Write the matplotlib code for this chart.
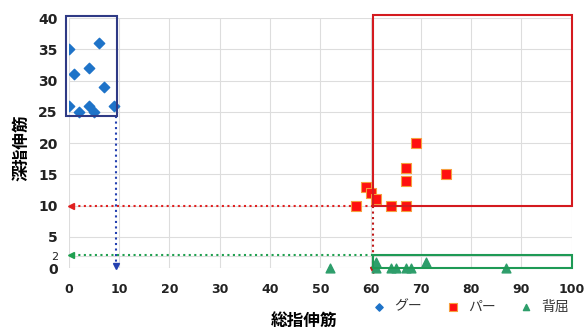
import matplotlib.pyplot as plt
from matplotlib.patches import Rectangle

plt.rcParams['font.family'] = ['Noto Sans CJK JP', 'DejaVu Sans']

goo_x = [0, 1, 4, 6, 7, 0, 2, 4, 5, 9]
goo_y = [35, 31, 32, 36, 29, 26, 25, 26, 25, 26]
paa_x = [57, 59, 60, 61, 64, 67, 67, 67, 69, 75]
paa_y = [10, 13, 12, 11, 10, 10, 14, 16, 20, 15]
hai_x = [52, 61, 61, 64, 65, 67, 68, 71, 87]
hai_y = [0, 1, 0, 0, 0, 0, 0, 1, 0]

xticks = [0, 10, 20, 30, 40, 50, 60, 70, 80, 90, 100]
yticks = [0, 2, 5, 10, 15, 20, 25, 30, 35, 40]

blue = '#1E73C8'
red = '#FF1010'
green = '#2E9E6B'

fig = plt.figure(figsize=(5.84, 3.29), dpi=100)
ax = fig.add_axes([0.118, 0.185, 0.861, 0.76])

ax.scatter(goo_x, goo_y, marker='D', s=28, color=blue, label='グー', zorder=3)
ax.scatter(paa_x, paa_y, marker='s', s=60, color=red, edgecolors='#F5A040',
           linewidths=0.8, label='パー', zorder=3)
ax.scatter(hai_x, hai_y, marker='^', s=40, color=green, label='背屈', zorder=3,
           clip_on=False)

# boxes
ax.add_patch(Rectangle((-0.5, 24.3), 10, 16.0, fill=False, ec='#2F3A85', lw=1.5,
                       clip_on=False, zorder=4))
ax.add_patch(Rectangle((60.5, 10), 39.5, 30.5, fill=False, ec='#D41A1F', lw=1.5,
                       clip_on=False, zorder=4))
ax.add_patch(Rectangle((60.5, 0), 39.5, 2.1, fill=False, ec='#1E9A55', lw=1.5,
                       clip_on=False, zorder=4))

# dotted guide arrows
ax.plot([9.4, 9.4], [24.3, 0.3], ls=':', color='#2340B0', lw=1.5, clip_on=False)
ax.plot([9.4], [0.3], marker='v', color='#2340B0', ms=4, clip_on=False)
ax.plot([60.5, 0.4], [10, 10], ls=':', color='#E02020', lw=1.5, clip_on=False)
ax.plot([0.4], [10], marker='<', color='#E02020', ms=4, clip_on=False)
ax.plot([60.5, 60.5], [10, -0.3], ls=':', color='#C01818', lw=1.5, clip_on=False)
ax.plot([60.5], [-0.3], marker='v', color='#C01818', ms=4, clip_on=False)
ax.plot([60.5, 0.4], [2.1, 2.1], ls=':', color='#20A050', lw=1.5, clip_on=False)
ax.plot([0.4], [2.1], marker='<', color='#20A050', ms=4, clip_on=False)

ax.set_xlim(0, 100)
ax.set_ylim(0, 40)
ax.set_xticks(xticks)
ax.set_yticks(yticks)
ax.set_xticklabels([str(v) for v in xticks], fontsize=9, fontweight='bold',
                   family='DejaVu Sans')
ylabels = ax.set_yticklabels([str(v) for v in yticks], fontsize=10, fontweight='bold',
                             family='DejaVu Sans')
ylabels[1].set_fontweight('normal')
ylabels[1].set_fontsize(8)
ax.tick_params(axis='y', length=0, pad=8, colors='#222222')
ax.tick_params(axis='x', length=0, pad=11, colors='#222222')
ax.grid(True, color='#DDDDDD', lw=0.8)
ax.set_axisbelow(True)
for s in ax.spines.values():
    s.set_visible(False)

fig.text(0.52, 0.025, '総指伸筋', fontsize=12, fontweight='bold', ha='center',
         va='center')
fig.text(0.022, 0.55, '深指伸筋', fontsize=12, fontweight='bold', va='center',
         rotation=90)
fig.legend(loc='center', bbox_to_anchor=(0.8, 0.068), ncol=3, frameon=False,
           fontsize=10, handletextpad=0.1, columnspacing=1.2, markerscale=0.7,
           labelcolor='#333333')

fig.savefig('out.png', dpi=100)
